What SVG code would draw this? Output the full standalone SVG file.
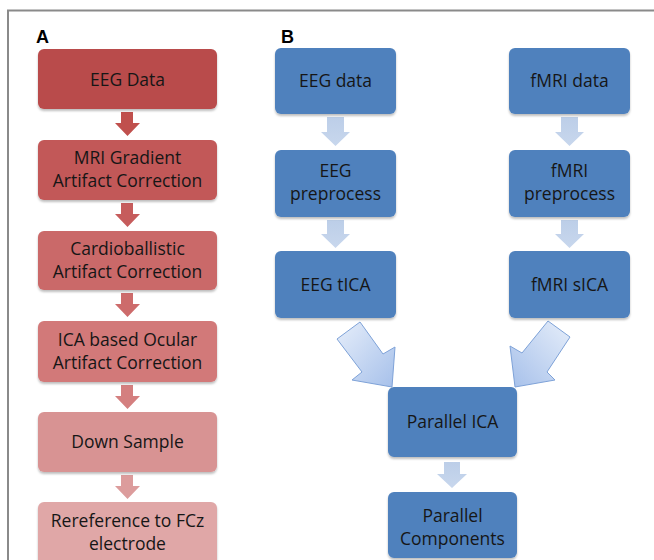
<svg xmlns="http://www.w3.org/2000/svg" width="654" height="560" viewBox="0 0 654 560">
<defs>
<filter id="sh" x="-10%" y="-10%" width="120%" height="130%">
<feDropShadow dx="0" dy="2" stdDeviation="1.2" flood-color="#000" flood-opacity="0.25"/>
</filter>
<linearGradient id="gl" x1="0" y1="0" x2="1" y2="1">
<stop offset="0" stop-color="#e6eefa"/>
<stop offset="1" stop-color="#a6c0ea"/>
</linearGradient>
<linearGradient id="gr" x1="1" y1="0" x2="0" y2="1">
<stop offset="0" stop-color="#e6eefa"/>
<stop offset="1" stop-color="#a6c0ea"/>
</linearGradient>
<linearGradient id="ga" x1="0" y1="0" x2="0" y2="1">
<stop offset="0" stop-color="#bccee8"/>
<stop offset="1" stop-color="#c8d7ed"/>
</linearGradient>
</defs>
<style>
.t{font-family:"Open Sans","Liberation Sans",sans-serif;font-size:17.5px;fill:#161616;text-anchor:middle}
.lbl{font-family:"Liberation Sans",Arial,sans-serif;font-size:18px;font-weight:bold;fill:#000}
.blue{fill:#4f81bd;filter:url(#sh)}
.frame{stroke:#8a8a8a;stroke-width:2;fill:none}
.big{stroke:#7ea2d8;stroke-width:1}
</style>
<path class="frame" d="M8,560 V10.5 H654"/>
<text class="lbl" x="36" y="43">A</text>
<text class="lbl" x="281" y="43">B</text>

<g id="connectors">
<path fill="#c0504d" d="M121,112 h12 v11 h7 l-12.5,13 l-12.5,-13 h6 z"/>
<path fill="#c65c5c" d="M121,203 h12 v11 h7 l-12.5,13 l-12.5,-13 h6 z"/>
<path fill="#cd6b6b" d="M121,293 h12 v11 h7 l-12.5,13 l-12.5,-13 h6 z"/>
<path fill="#d47f7f" d="M121,385 h12 v11 h7 l-12.5,13 l-12.5,-13 h6 z"/>
<path fill="#dc9c9c" d="M121,475 h12 v11 h7 l-12.5,13 l-12.5,-13 h6 z"/>
<path fill="url(#ga)" d="M327,117 h17 v15 h6 l-14.5,14 l-14.5,-14 h6 z"/>
<path fill="url(#ga)" d="M327,220 h17 v14 h6 l-14.5,14 l-14.5,-14 h6 z"/>
<path fill="url(#ga)" d="M561,117 h17 v15 h6 l-14.5,14 l-14.5,-14 h6 z"/>
<path fill="url(#ga)" d="M561,220 h17 v14 h6 l-14.5,14 l-14.5,-14 h6 z"/>
<path fill="url(#ga)" d="M444,462 h16 v12 h7 l-15,14 l-15,-14 h7 z"/>
<path class="big" fill="url(#gl)" d="M360,322 L337,339 L362,372 L352,380 L392,387 L395,347 L383,354 Z"/>
<path class="big" fill="url(#gr)" d="M548,321 L570,337 L547,372 L555,380 L515,387 L510,346 L522,353 Z"/>
</g>

<g id="n-eegdata"><rect x="38" y="49" width="179" height="60" rx="6" fill="#b94b4b" filter="url(#sh)"/><text class="t" x="127.5" y="86">EEG Data</text></g>
<g id="n-mri"><rect x="38" y="140" width="179" height="60" rx="6" fill="#c25858" filter="url(#sh)"/><text class="t" x="127.5" y="164">MRI Gradient</text><text class="t" x="127.5" y="187">Artifact Correction</text></g>
<g id="n-cardio"><rect x="38" y="231" width="179" height="59" rx="6" fill="#ca6969" filter="url(#sh)"/><text class="t" x="127.5" y="255">Cardioballistic</text><text class="t" x="127.5" y="278">Artifact Correction</text></g>
<g id="n-ica"><rect x="38" y="321" width="179" height="61" rx="6" fill="#d27979" filter="url(#sh)"/><text class="t" x="127.5" y="346">ICA based Ocular</text><text class="t" x="127.5" y="369">Artifact Correction</text></g>
<g id="n-down"><rect x="38" y="412" width="179" height="60" rx="6" fill="#d89393" filter="url(#sh)"/><text class="t" x="127.5" y="448">Down Sample</text></g>
<g id="n-reref"><rect x="38" y="502" width="179" height="66" rx="6" fill="#e0a7a7" filter="url(#sh)"/><text class="t" x="127.5" y="527">Rereference to FCz</text><text class="t" x="127.5" y="550">electrode</text></g>

<g id="n-eeg"><rect class="blue" x="275" y="48" width="121" height="66" rx="6"/><text class="t" x="335.5" y="87">EEG data</text></g>
<g id="n-eegpre"><rect class="blue" x="275" y="150" width="121" height="67" rx="6"/><text class="t" x="335.5" y="177">EEG</text><text class="t" x="335.5" y="200">preprocess</text></g>
<g id="n-eegtica"><rect class="blue" x="275" y="251" width="121" height="67" rx="6"/><text class="t" x="335.5" y="291">EEG tICA</text></g>
<g id="n-fmri"><rect class="blue" x="509" y="48" width="121" height="66" rx="6"/><text class="t" x="569.5" y="87">fMRI data</text></g>
<g id="n-fmripre"><rect class="blue" x="509" y="150" width="121" height="67" rx="6"/><text class="t" x="569.5" y="177">fMRI</text><text class="t" x="569.5" y="200">preprocess</text></g>
<g id="n-fmrisica"><rect class="blue" x="509" y="251" width="121" height="67" rx="6"/><text class="t" x="569.5" y="291">fMRI sICA</text></g>
<g id="n-pica"><rect class="blue" x="388" y="387" width="129" height="70" rx="6"/><text class="t" x="452.5" y="428">Parallel ICA</text></g>
<g id="n-pcomp"><rect class="blue" x="388" y="492" width="129" height="66" rx="6"/><text class="t" x="452.5" y="522">Parallel</text><text class="t" x="452.5" y="545">Components</text></g>
</svg>
